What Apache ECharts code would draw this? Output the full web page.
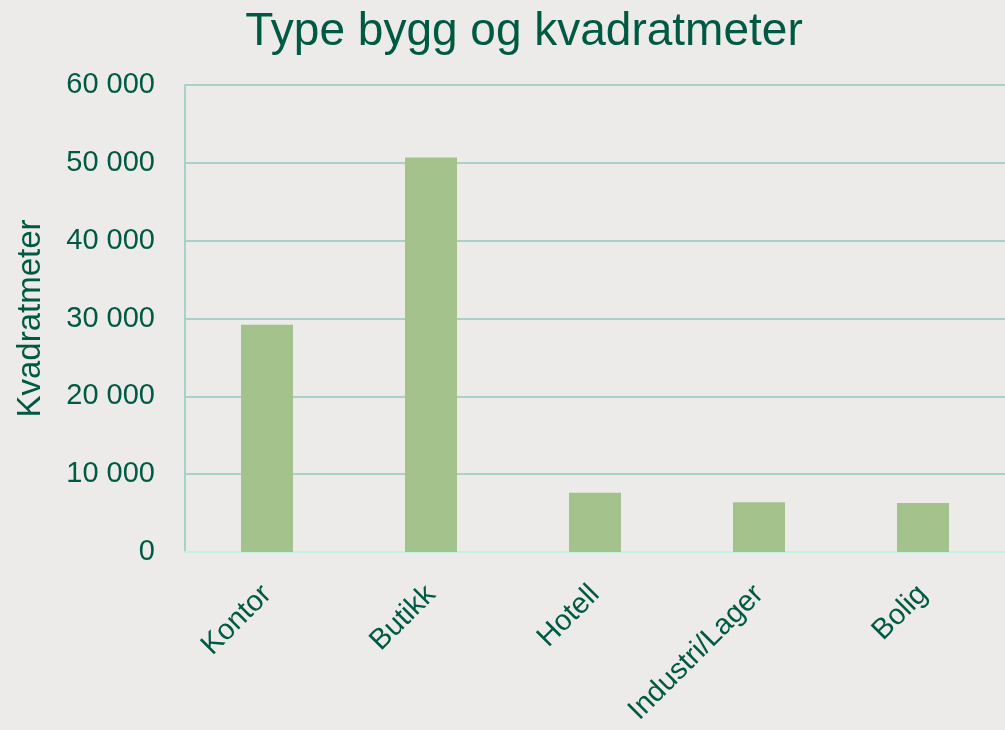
<!DOCTYPE html>
<html>
<head>
<meta charset="utf-8">
<script src="https://cdn.jsdelivr.net/npm/echarts@6/dist/echarts.min.js"></script>
<style>
  html, body { margin: 0; padding: 0; background: #ecebe9; }
  #chart { width: 1005px; height: 730px; }
</style>
</head>
<body>
<div id="chart"></div>
<script>
const categories = ["Kontor", "Butikk", "Hotell", "Industri/Lager", "Bolig"];
const areaValues = [29200, 50700, 7600, 6400, 6300];
const yTicks = [0, 10000, 20000, 30000, 40000, 50000, 60000];

const textColor = "#005a43";
const fontFamily = "'Liberation Sans', Arial, sans-serif";

function formatThousands(value) {
  return String(value).replace(/\B(?=(\d{3})+(?!\d))/g, " ");
}

const chart = echarts.init(document.getElementById("chart"));

chart.setOption({
  backgroundColor: "#ecebe9",
  animation: false,
  title: {
    text: "Type bygg og kvadratmeter",
    left: 519,
    textAlign: "center",
    top: 4,
    textStyle: { color: textColor, fontSize: 46, fontWeight: "normal", fontFamily },
  },
  grid: { left: 185, top: 85, width: 825, bottom: 178, containLabel: false },
  xAxis: {
    type: "category",
    data: categories,
    axisLine: { show: true, lineStyle: { color: "#c4f1e4", width: 2 } },
    axisTick: { show: false },
    axisLabel: {
      rotate: 45,
      margin: 38,
      color: textColor,
      fontSize: 29,
      fontFamily,
      interval: 0,
    },
  },
  yAxis: {
    type: "value",
    min: yTicks[0],
    max: yTicks[yTicks.length - 1],
    interval: yTicks[1] - yTicks[0],
    name: "Kvadratmeter",
    nameLocation: "middle",
    nameGap: 138,
    nameTextStyle: { color: textColor, fontSize: 33, fontFamily },
    axisLine: { show: true, lineStyle: { color: "#a8d1c9", width: 2 } },
    axisTick: { show: false },
    axisLabel: {
      color: textColor,
      fontSize: 29,
      fontFamily,
      margin: 30,
      formatter: (value) => formatThousands(value),
    },
    splitLine: { lineStyle: { color: "#a8d1c9", width: 2 } },
  },
  series: [
    {
      name: "Kvadratmeter",
      type: "bar",
      data: areaValues,
      barWidth: 52,
      itemStyle: { color: "#a4c28b" },
    },
  ],
});
</script>
</body>
</html>
